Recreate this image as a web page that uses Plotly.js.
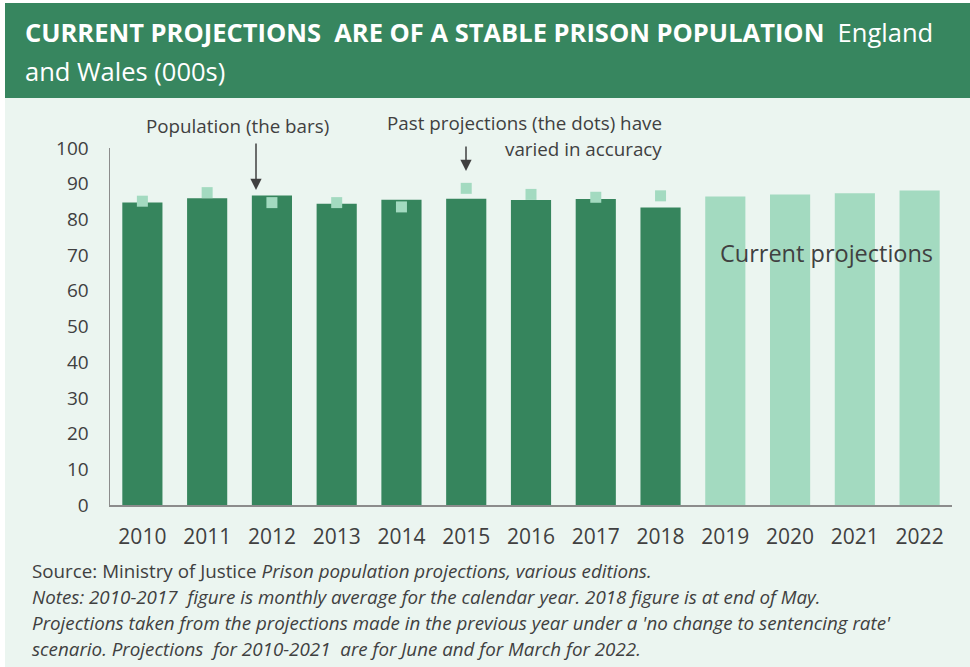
<!DOCTYPE html>
<html>
<head>
<meta charset="utf-8">
<script src="https://cdn.plot.ly/plotly-3.0.1.min.js"></script>
<style>html,body{margin:0;padding:0;background:#fff;}#chart{width:970px;height:667px;}</style>
</head>
<body>
<div id="chart"></div>
<script>
// ---- data ----
const years = ['2010','2011','2012','2013','2014','2015','2016','2017','2018','2019','2020','2021','2022'];
const population = [84.7, 85.9, 86.7, 84.4, 85.5, 85.8, 85.4, 85.7, 83.3, null, null, null, null];
const currentProjections = [null, null, null, null, null, null, null, null, null, 86.4, 87.0, 87.3, 88.1];
const pastProjections = [85.1, 87.5, 84.7, 84.7, 83.5, 88.7, 87.0, 86.2, 86.6, null, null, null, null];
const yTicks = [0,10,20,30,40,50,60,70,80,90,100];

const titleBold = 'CURRENT PROJECTIONS&nbsp; ARE OF A STABLE PRISON POPULATION';
const titleRest = 'England';
const titleLine2 = 'and Wales (000s)';
const footer = [
  'Source: Ministry of Justice <i>Prison population projections, various editions.</i>',
  '<i>Notes: 2010-2017&nbsp; figure is monthly average for the calendar year. 2018 figure is at end of May.</i>',
  "<i>Projections taken from the projections made in the previous year under a 'no change to sentencing rate'</i>",
  '<i>scenario. Projections&nbsp; for 2010-2021&nbsp; are for June and for March for 2022.</i>'
];

// ---- geometry helpers (pixel -> paper) ----
const L = 110, R = 952, T = 148, B = 505;
const px = v => (v - L) / (R - L);
const py = v => (B - v) / (B - T);

const DARK = '#36855d', LIGHT = '#a3dac0', BG = '#ebf5f0', HEAD = '#37865f', TXT = '#404040';
const FONT = '"Open Sans", sans-serif';

const traces = [
  {type:'bar', x: years, y: population, marker:{color: DARK}, hoverinfo:'skip'},
  {type:'bar', x: years, y: currentProjections, marker:{color: LIGHT}, hoverinfo:'skip'},
  {type:'scatter', mode:'markers', x: years, y: pastProjections,
   marker:{symbol:'square', size:11, color: LIGHT}, hoverinfo:'skip'}
];

const annotations = [
  {xref:'paper', yref:'paper', x: px(23), y: py(32), xanchor:'left', yanchor:'middle', showarrow:false,
   text: '<b>' + titleBold + '</b>&nbsp; ' + titleRest, font:{family: FONT, size: 25.5, color:'#ffffff'}},
  {xref:'paper', yref:'paper', x: px(23), y: py(71), xanchor:'left', yanchor:'middle', showarrow:false,
   text: titleLine2, font:{family: FONT, size: 25.5, color:'#ffffff'}},
  {xref:'paper', yref:'paper', x: px(237), y: py(126), xanchor:'center', yanchor:'middle', showarrow:false,
   text: 'Population (the bars)', font:{family: FONT, size: 18.8, color: TXT}},
  {xref:'paper', yref:'paper', x: px(664), y: py(123), xanchor:'right', yanchor:'middle', showarrow:false,
   text: 'Past projections (the dots) have', font:{family: FONT, size: 18.8, color: TXT}},
  {xref:'paper', yref:'paper', x: px(664), y: py(149), xanchor:'right', yanchor:'middle', showarrow:false,
   text: 'varied in accuracy', font:{family: FONT, size: 18.8, color: TXT}},
  {xref:'paper', yref:'paper', x: px(826), y: py(253), xanchor:'center', yanchor:'middle', showarrow:false,
   text: 'Current projections', font:{family: FONT, size: 23.5, color: TXT}},
  {xref:'paper', yref:'paper', x: px(256), y: py(190), text:'', showarrow:true, ax:0, ay:-48,
   arrowhead:2, arrowsize:1.5, arrowwidth:1.5, arrowcolor: TXT},
  {xref:'paper', yref:'paper', x: px(466), y: py(171), text:'', showarrow:true, ax:0, ay:-26,
   arrowhead:2, arrowsize:1.5, arrowwidth:1.5, arrowcolor: TXT}
];
const footerY = [571, 597, 623, 649];
footer.forEach((t, i) => annotations.push({
  xref:'paper', yref:'paper', x: px(30), y: py(footerY[i]), xanchor:'left', yanchor:'middle', showarrow:false,
  text: t, font:{family: FONT, size: 18.8, color: TXT}
}));

const shapes = [
  {type:'rect', xref:'paper', yref:'paper', layer:'below', x0: px(5), x1: px(972), y0: py(669), y1: py(3),
   fillcolor: BG, line:{width:0}},
  {type:'rect', xref:'paper', yref:'paper', layer:'below', x0: px(5), x1: px(972), y0: py(98), y1: py(3),
   fillcolor: HEAD, line:{width:0}}
];

const layout = {
  width: 970, height: 667,
  margin: {l: L, r: 970 - R, t: T, b: 667 - B, pad: 0},
  paper_bgcolor: '#ffffff', plot_bgcolor: 'rgba(0,0,0,0)',
  showlegend: false, barmode: 'overlay', bargap: 0.38,
  font: {family: FONT, color: TXT},
  xaxis: {type:'category', range:[-0.5, 12.5], autorange:false, showline:true, linecolor:'#8c8c8c', linewidth:1.5,
          ticks:'', showgrid:false, tickfont:{family: FONT, size: 21, color: TXT}, ticklabelstandoff: 12, fixedrange:true},
  yaxis: {range:[0,100], autorange:false, tickvals: yTicks, showline:true, linecolor:'#8c8c8c', linewidth:1.5, ticks:'',
          showgrid:false, zeroline:false, tickfont:{family: FONT, size: 19, color: TXT},
          ticklabelstandoff: 16, fixedrange:true},
  annotations: annotations,
  shapes: shapes
};

Plotly.newPlot('chart', traces, layout, {staticPlot: true, displayModeBar: false});
</script>
</body>
</html>
